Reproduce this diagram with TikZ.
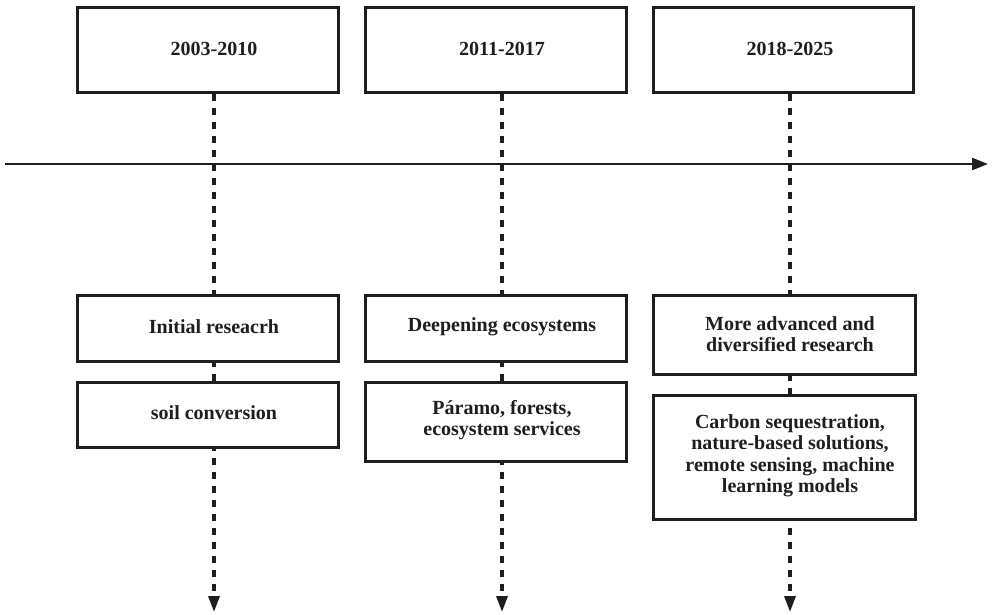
\documentclass[tikz,border=0pt]{standalone}
\usepackage{fontspec}
\setmainfont{Liberation Serif}
\usetikzlibrary{arrows.meta}
\definecolor{ink}{HTML}{1E1E1E}
\begin{document}
\begin{tikzpicture}[x=1pt,y=-1pt,
  boxst/.style={draw=ink,line width=3pt,fill=white,minimum width=#1,inner sep=0pt},
  txt/.style={text=ink,font=\bfseries\fontsize{20}{21.5}\selectfont,align=center,inner sep=0pt},
  dashline/.style={draw=ink,line width=3.2pt,dash pattern=on 7.5pt off 6.5pt,-{Triangle[width=11pt,length=16pt]}},
  axis/.style={draw=ink,line width=2.5pt,-{Triangle[width=12pt,length=16pt]}}]
\useasboundingbox (0,0) rectangle (993,614);
\fill[white] (0,0) rectangle (993,614);
% coordinates for axis and arrow ends
\coordinate (ha) at (5,164);
\coordinate (hb) at (988,164);
\coordinate (e1) at (214,612);
\coordinate (e2) at (502,612);
\coordinate (e3) at (790,612);
% top boxes
\node[boxst=261pt,minimum height=85pt] (t1) at (207.5,49.5) {};
\node[boxst=261pt,minimum height=85pt] (t2) at (495.5,49.5) {};
\node[boxst=260pt,minimum height=85pt] (t3) at (783,49.5) {};
\node[txt] (y1) at (214,48.5) {2003-2010};
\node[txt] (y2) at (502,48.5) {2011-2017};
\node[txt] (y3) at (790,48.5) {2018-2025};
% dashed lines
\draw[dashline] (y1 |- t1.south) -- (e1);
\draw[dashline] (y2 |- t2.south) -- (e2);
\draw[dashline] (y3 |- t3.south) -- (e3);
% axis
\draw[axis] (ha) -- (hb);
% row 2
\node[boxst=261pt,minimum height=66pt] (a1) at (207.5,328) {};
\node[boxst=261pt,minimum height=66pt] (a2) at (495.5,328) {};
\node[boxst=262pt,minimum height=79pt] (a3) at (784,334.5) {};
\node[txt] (la1) at (214,327) {Initial reseacrh};
\node[txt] (la2) at (502,327) {Deepening ecosystems};
\node[txt] (la3) at (790,334) {More advanced and\\diversified research};
% row 3
\node[boxst=261pt,minimum height=65pt] (b1) at (207.5,414.5) {};
\node[boxst=261pt,minimum height=79pt] (b2) at (495.5,421.5) {};
\node[boxst=262pt,minimum height=124pt] (b3) at (784,457) {};
\node[txt] (lb1) at (214,413) {soil conversion};
\node[txt] (lb2) at (502,420) {Páramo, forests,\\ecosystem services};
\node[txt] (lb3) at (790,456) {Carbon sequestration,\\nature-based solutions,\\remote sensing, machine\\learning models};
\end{tikzpicture}
\end{document}
